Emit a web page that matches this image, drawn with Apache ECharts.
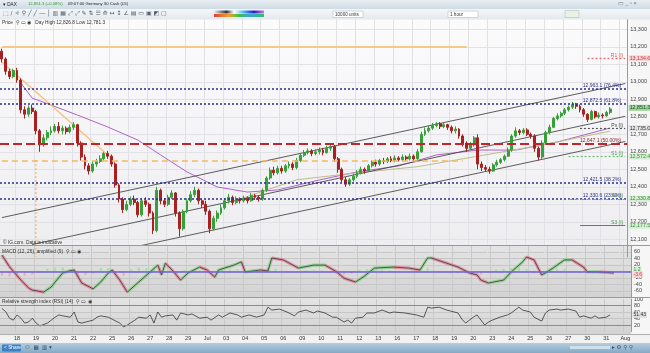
<!DOCTYPE html>
<html><head><meta charset="utf-8">
<script src="https://cdn.jsdelivr.net/npm/echarts/dist/echarts.min.js"></script>
<style>html,body{margin:0;padding:0;background:#fff;overflow:hidden}#c{width:650px;height:353px}</style>
</head><body><div id="c"></div><script>
// ---------- data ----------
const dayLabels = ['15','18','19','20','21','22','25','26','27','28','29','Jul','03','04','05','06','09','10','11','12','13','16','17','18','19','20','23','24','25','26','27','30','31','Aug'];
const daySlots  = [4,5,5,5,5,5,5,5,5,5,5,5,5,5,5,5,5,5,5,5,5,5,5,5,5,5,5,5,5,5,5,5,5,2];
// [open, close, low, high]
const ohlc = [
[13175,13130,13110,13190],[13130,13060,13040,13140],[13060,13030,13015,13075],[13030,13065,13020,13075],
[13065,13010,12995,13080],[13010,12840,12820,13020],[12840,12815,12790,12860],[12815,12850,12800,12865],[12850,12830,12815,12870],
[12830,12720,12700,12840],[12720,12640,12600,12730],[12640,12680,12630,12700],[12680,12710,12665,12725],[12710,12720,12695,12745],
[12720,12745,12710,12760],[12745,12720,12705,12770],[12720,12735,12700,12750],[12735,12715,12700,12745],[12715,12740,12705,12755],
[12740,12755,12725,12770],[12755,12650,12630,12760],[12650,12570,12550,12660],[12570,12520,12500,12585],[12520,12490,12470,12535],
[12490,12530,12480,12545],[12530,12545,12515,12560],[12545,12560,12535,12580],[12560,12590,12550,12600],[12590,12575,12560,12605],
[12575,12530,12515,12585],[12530,12410,12395,12540],[12410,12330,12310,12420],[12330,12270,12250,12340],[12270,12300,12260,12320],
[12300,12330,12290,12345],[12330,12310,12295,12350],[12310,12240,12225,12320],[12240,12320,12230,12335],[12320,12300,12285,12340],
[12300,12250,12230,12310],[12250,12150,12130,12260],[12150,12380,12140,12400],[12380,12320,12300,12390],[12320,12300,12285,12335],
[12300,12340,12290,12355],[12340,12365,12330,12380],[12365,12250,12230,12370],[12250,12160,12115,12260],[12160,12260,12150,12270],
[12260,12320,12250,12335],[12320,12355,12310,12375],[12355,12380,12340,12400],[12380,12320,12300,12390],[12320,12300,12280,12330],
[12300,12260,12240,12320],[12260,12160,12135,12270],[12160,12220,12150,12235],[12220,12250,12200,12265],[12250,12280,12240,12300],
[12280,12320,12270,12335],[12320,12340,12305,12360],[12340,12310,12295,12350],[12310,12330,12300,12345],[12330,12320,12305,12340],
[12320,12335,12310,12350],[12335,12320,12305,12345],[12320,12350,12315,12365],[12350,12340,12325,12360],[12340,12330,12315,12350],
[12330,12380,12320,12390],[12380,12450,12370,12460],[12450,12495,12440,12510],[12495,12480,12465,12515],[12480,12505,12470,12520],
[12505,12490,12475,12520],[12490,12520,12480,12530],[12520,12530,12505,12545],[12530,12510,12495,12540],[12510,12550,12500,12565],
[12550,12580,12540,12590],[12580,12595,12570,12610],[12595,12605,12585,12620],[12605,12590,12575,12615],[12590,12600,12580,12615],
[12600,12610,12585,12625],[12610,12595,12580,12620],[12595,12620,12590,12635],[12620,12630,12605,12645],[12630,12560,12545,12640],
[12560,12500,12480,12570],[12500,12440,12425,12510],[12440,12415,12400,12455],[12415,12440,12405,12450],[12440,12460,12430,12475],
[12460,12480,12450,12495],[12480,12500,12470,12515],[12500,12490,12475,12510],[12490,12520,12485,12530],[12520,12540,12510,12550],
[12540,12530,12515,12555],[12530,12550,12520,12560],[12550,12545,12530,12565],[12545,12560,12535,12570],[12560,12550,12540,12575],
[12550,12565,12540,12580],[12565,12555,12545,12575],[12555,12570,12545,12585],[12570,12560,12550,12580],[12560,12575,12550,12590],
[12575,12560,12545,12585],[12560,12600,12555,12615],[12600,12700,12595,12715],[12700,12720,12690,12740],[12720,12735,12710,12750],
[12735,12750,12725,12765],[12750,12760,12740,12770],[12760,12745,12730,12770],[12745,12755,12735,12765],[12755,12740,12725,12760],
[12740,12720,12705,12750],[12720,12730,12705,12745],[12730,12690,12675,12735],[12690,12650,12630,12700],[12650,12620,12600,12660],
[12620,12640,12610,12655],[12640,12680,12630,12690],[12680,12530,12500,12700],[12530,12510,12490,12545],[12510,12500,12485,12525],
[12500,12490,12475,12515],[12490,12525,12485,12535],[12525,12540,12515,12555],[12540,12555,12530,12565],[12555,12575,12545,12585],
[12575,12610,12570,12625],[12610,12690,12600,12700],[12690,12720,12680,12740],[12720,12710,12695,12730],[12710,12725,12700,12735],
[12725,12700,12690,12735],[12700,12690,12675,12710],[12690,12620,12600,12700],[12620,12570,12550,12630],[12570,12650,12560,12665],
[12650,12710,12640,12720],[12710,12740,12700,12755],[12740,12790,12735,12800],[12790,12805,12780,12820],[12805,12820,12795,12830],
[12820,12840,12810,12850],[12840,12855,12830,12865],[12855,12870,12845,12885],[12870,12860,12845,12880],[12860,12840,12825,12870],
[12840,12815,12800,12850],[12815,12785,12770,12820],[12785,12830,12780,12840],[12830,12800,12790,12835],[12800,12810,12790,12825],
[12810,12805,12790,12820],[12805,12825,12800,12835],[12825,12845,12815,12855]
];
// moving averages: [slot, price]
const purpleMA = [[5,12994],[8,12907],[13,12867],[20,12810],[28,12742],[36,12667],[42,12582],[49,12485],[57,12399],[65,12370],[73,12382],[84,12439],[94,12485],[105,12519],[115,12582],[126,12610],[136,12610],[147,12656],[161,12736]];
const oliveMA  = [[63,12330],[78,12440],[94,12480],[110,12515],[126,12575],[142,12635],[161,12718]];
// trend lines: [slot, price]
const channelUpper = [[0,12224],[165,12990]];
const channelMid   = [[8,12070],[165,12803]];
const channelLower = [[37,12065],[165,12659]];
const downTrend    = [[0,13113],[28,12582]];
const orangeVert   = [[9,12553],[9,12000]];
// levels
const fibLevels  = [12963.1, 12872.5, 12421.5, 12330.6];
const fibTexts   = ['12,963.1 (76.4%)','12,872.5 (61.8%)','12,421.5 (38.2%)','12,330.6 (23.6%)'];
const midLevel   = 12647.1;
const midText    = '12,647.1 (50.00%)';
const orangeTop  = 13200;
const orangeDash = 12547;
const pivots = {R1:13134.6, Pv:12735.0, S1:12572.4, S2:12330.8, S3:12177.5};
const lastPrice = 12851.3;
// MACD: [slot, value]
const macdLine = [[0,50],[2,14],[5,-27],[7,-51],[8,-58],[11,-64],[13,-48],[14,-33],[16,-5],[18,2],[19,4],[21,-36],[24,-54],[26,-33],[28,-5],[29,4],[31,-27],[33,-64],[36,-33],[39,-2],[41,19],[42,-11],[43,25],[45,1],[47,-27],[49,-5],[52,13],[54,4],[56,-18],[57,4],[61,19],[63,29],[64,-2],[68,4],[70,1],[71,41],[74,35],[78,10],[82,19],[85,19],[88,-1],[90,-21],[93,-33],[95,-18],[98,10],[103,13],[107,10],[110,4],[112,41],[113,41],[116,29],[120,13],[123,-5],[125,-11],[126,-27],[128,-36],[132,-27],[134,-2],[137,29],[138,44],[140,35],[142,-11],[143,-5],[145,10],[148,35],[150,35],[153,13],[154,-2],[157,-2],[161,-5]];
const macdHist = [[0,-14],[2,-16],[4,-18],[6,-14],[8,-10],[10,-4],[12,8],[14,12],[16,12],[18,6],[20,-10],[22,-12],[24,-6],[26,10],[28,10],[30,-8],[32,-14],[34,6],[36,12],[38,10],[40,8],[42,-4],[44,4],[46,-8],[48,4],[50,6],[52,4],[54,-4],[56,-4],[58,4],[60,6],[62,6],[64,-4],[66,2],[68,2],[70,10],[72,8],[74,-2],[76,-4],[78,-2],[80,3],[82,3],[84,2],[86,-4],[88,-8],[90,-10],[92,-8],[94,4],[96,6],[98,6],[100,3],[102,3],[104,2],[106,-2],[108,-2],[110,4],[112,12],[114,-2],[116,-4],[118,-6],[120,-6],[122,-6],[124,-6],[126,-10],[128,-4],[130,6],[132,8],[134,10],[136,12],[138,8],[140,-6],[142,-8],[144,6],[146,8],[148,8],[150,-2],[152,-6],[154,-6],[156,-2],[158,-2],[160,-2]];
// RSI: [slot, value]
const rsiLine = [[0,71],[1,61],[2,41],[3,35],[4,51],[5,41],[6,26],[7,29],[8,41],[9,26],[10,17],[12,26],[13,35],[14,44],[15,51],[16,48],[18,44],[19,60],[20,29],[21,26],[22,29],[24,35],[25,44],[26,48],[28,44],[29,38],[31,26],[32,14],[33,20],[35,35],[36,44],[38,41],[39,51],[40,26],[41,60],[42,44],[43,48],[45,51],[46,35],[47,57],[49,51],[50,54],[52,41],[54,44],[55,35],[57,51],[58,44],[60,57],[62,51],[63,44],[65,51],[67,44],[69,51],[70,75],[71,66],[73,69],[75,60],[77,48],[78,60],[80,66],[82,57],[83,63],[85,57],[87,44],[88,44],[90,29],[91,35],[92,26],[93,41],[95,44],[96,57],[98,57],[100,66],[102,57],[103,60],[106,57],[109,51],[111,44],[112,75],[113,72],[115,75],[117,66],[118,63],[120,57],[121,38],[122,26],[123,35],[124,44],[125,51],[127,20],[128,29],[129,35],[131,44],[133,51],[134,57],[136,75],[137,66],[139,60],[140,44],[142,32],[143,57],[144,66],[146,69],[147,66],[149,69],[151,63],[152,44],[153,48],[155,41],[156,48],[157,41],[159,44],[160,51]];
const rsiLast = 51.43;
const macdLast = [1.2, -3.6];

// ---------- build ----------
const categories = []; const dayStart = new Set();
dayLabels.forEach((d,i)=>{ dayStart.add(categories.length); for(let k=0;k<daySlots[i];k++) categories.push(d+'#'+k); });
const fmt = v => v.toLocaleString('en-US',{minimumFractionDigits:1,maximumFractionDigits:1});
const FONT = 'Liberation Sans, Arial, sans-serif';
const navy = '#2a2f86';
const CLEAR = 'rgba(0,0,0,0)';

const ribbonPieces = [];
for (let i=0;i<macdLine.length-1;i++){
  const up = macdLine[i+1][1] >= macdLine[i][1];
  ribbonPieces.push({gte: macdLine[i][0], lt: macdLine[i+1][0] + (i===macdLine.length-2?1:0), color: up ? '#7fcd7f' : '#e27b90'});
}

function xAxisDef(gi, showLabels){
  return {type:'category', gridIndex:gi, data:categories, boundaryGap:true,
    axisLine:{show:false}, axisTick:{show:false},
    axisLabel:{show:showLabels, interval:(i,v)=>v.endsWith('#0') && !v.startsWith('15#'), formatter:v=>v.split('#')[0],
      fontSize:5.5, color:'#333', fontFamily:FONT, margin:4},
    splitLine:{show:true, interval:(i)=>dayStart.has(i)&&i>0, lineStyle:{color:gi===0?'#e2e2e6':'#c9c9c9', width:1}}};
}
function yAxisDef(gi, min, max, interval, hide){
  return {type:'value', gridIndex:gi, position:'right', min, max, interval,
    axisLine:{show:true, lineStyle:{color:'#9a9a9a'}}, axisTick:{show:false},
    axisLabel:{fontSize:5.5, color:'#444', fontFamily:FONT, margin:3,
      formatter:v=> hide(v) ? '' : (Math.abs(v)>=1000 ? v.toLocaleString('en-US') : String(v))},
    splitLine:{show:true, showMinLine:false, showMaxLine:false, lineStyle:{color:gi===0?'#e2e2e6':'#c6c6c6', width:1}}};
}

const lblSmall = (color)=>({show:true, position:'insideEndTop', fontSize:5, color, fontFamily:FONT, distance:[6,0.5]});
const axisBox = (val, txt, bg, fg) => ({yAxis:val, lineStyle:{color:CLEAR, width:0}, label:{show:true, position:'end', formatter:txt, fontSize:5.3, color:fg, backgroundColor:bg, padding:[1,1,0,1], distance:1.5, fontFamily:FONT}});

const mainMarks = [];
fibLevels.forEach((v,i)=>mainMarks.push({yAxis:v, lineStyle:{color:navy, width:1.6, type:[2,2]}, label:{...lblSmall(navy), formatter:fibTexts[i]}}));
mainMarks.push({yAxis:midLevel, lineStyle:{color:'#c0272d', width:2, type:[9,4]}, label:{...lblSmall('#8a1c1c'), formatter:midText}});
mainMarks.push([{coord:[0,orangeTop], lineStyle:{color:'#f6c886', width:2, type:'solid'}, label:{show:false}},{coord:[123,orangeTop]}]);
mainMarks.push([{coord:[0,orangeDash], lineStyle:{color:'#f3bb62', width:1.6, type:[6,4]}, label:{show:false}},{coord:[122,orangeDash]}]);
mainMarks.push([{coord:[155,pivots.R1], lineStyle:{color:'#e0707a', width:1.4, type:[2,2]}, label:{show:true, position:'insideEndTop', formatter:'R1 (I)', fontSize:5, color:'#d0606a', distance:[2,0.5]}},{coord:[165,pivots.R1]}]);
mainMarks.push([{coord:[153,pivots.Pv], lineStyle:{color:'#555', width:1.2, type:[2,2]}, label:{show:true, position:'insideEndTop', formatter:'Pv (I)', fontSize:5, color:'#444', distance:[2,0.5]}},{coord:[165,pivots.Pv]}]);
mainMarks.push([{coord:[150,pivots.S1], lineStyle:{color:'#6dbb6d', width:1.2, type:[2,2]}, label:{show:true, position:'insideEndTop', formatter:'S1 (I)', fontSize:5, color:'#4a9a4a', distance:[2,0.5]}},{coord:[165,pivots.S1]}]);
mainMarks.push([{coord:[150,pivots.S2], lineStyle:{color:'#6dbb6d', width:1, type:[4,2]}, label:{show:true, position:'insideEndTop', formatter:'S2 (I)', fontSize:5, color:'#4a9a4a', distance:[2,0.5]}},{coord:[165,pivots.S2]}]);
mainMarks.push([{coord:[153,pivots.S3], lineStyle:{color:'#3f9a3f', width:1.2, type:'solid'}, label:{show:true, position:'insideEndTop', formatter:'S3 (I)', fontSize:5, color:'#4a9a4a', distance:[2,0.5]}},{coord:[165,pivots.S3]}]);
mainMarks.push(axisBox(pivots.R1, fmt(pivots.R1), '#f6d5d8', '#c0404a'));
mainMarks.push(axisBox(pivots.Pv, fmt(pivots.Pv), '#e2e2e2', '#333'));
mainMarks.push(axisBox(pivots.S1, fmt(pivots.S1), '#d6eed6', '#3a8a3a'));
mainMarks.push(axisBox(pivots.S2, fmt(pivots.S2), '#d6eed6', '#3a8a3a'));
mainMarks.push(axisBox(pivots.S3, fmt(pivots.S3), '#d6eed6', '#3a8a3a'));
mainMarks.push(axisBox(lastPrice, fmt(lastPrice), '#9fd39f', '#1f4f1f'));

const lineS = (data, color, width, type, xi) => ({type:'line', xAxisIndex:xi||0, yAxisIndex:xi||0, data, symbol:'none', silent:true, animation:false, lineStyle:{color, width, type:type||'solid'}, z:3});

const option = {
  animation:false,
  textStyle:{fontFamily:FONT},
  grid:[
    {left:0, right:19, top:11.8, height:245},
    {left:0, right:19, top:245.3, height:52},
    {left:0, right:19, top:299, height:32.5}
  ],
  xAxis:[xAxisDef(0,false), xAxisDef(1,false), xAxisDef(2,true)],
  yAxis:[
    yAxisDef(0, 12000, 13400, 100, v=>v<=12000||v>=13400),
    yAxisDef(1, -80, 80, 20, v=>v===0||Math.abs(v)>=80),
    yAxisDef(2, 0, 100, 20, v=>v===0)
  ],
  visualMap:[{show:false, type:'piecewise', seriesIndex:8, dimension:0, pieces:ribbonPieces, outOfRange:{color:'#999'}}],
  series:[
    {type:'candlestick', xAxisIndex:0, yAxisIndex:0, data:ohlc, barWidth:2.4, animation:false, silent:true, z:4,
      itemStyle:{color:'#38a038', color0:'#a82020', borderColor:'#38a038', borderColor0:'#a82020', borderWidth:1},
      markLine:{silent:true, symbol:['none','none'], animation:false, precision:1, data:mainMarks}},
    lineS(purpleMA, '#b063c6', 1),
    lineS(oliveMA, '#bdbd8c', 1),
    lineS(channelUpper, '#4a4a4a', 0.9),
    lineS(channelMid, '#4a4a4a', 0.9),
    lineS(channelLower, '#4a4a4a', 0.9),
    lineS(downTrend, '#f4c27c', 1.4),
    lineS(orangeVert, '#f0b860', 1.2, [2,2]),
    // 8: MACD ribbon
    {type:'line', xAxisIndex:1, yAxisIndex:1, data:macdLine, symbol:'none', silent:true, lineStyle:{width:3.2, opacity:0.75}, z:3},
    {type:'bar', xAxisIndex:1, yAxisIndex:1, data:macdHist, barWidth:2, silent:true, z:2,
      itemStyle:{color:p=>p.value[1]>=0?'#a8dca8':'#f2a9b4'},
      markLine:{silent:true, symbol:['none','none'], animation:false, data:[
        {yAxis:0, lineStyle:{color:'#6f62d0', width:1.6, type:'solid'}, label:{show:false}},
        {yAxis:macdLast[0]+4, lineStyle:{color:CLEAR, width:0}, label:{show:true, position:'end', formatter:String(macdLast[0]), fontSize:5, color:'#3a8a3a', backgroundColor:'#d6eed6', padding:[1,1,0,1], distance:1.5}},
        {yAxis:macdLast[1]-6, lineStyle:{color:CLEAR, width:0}, label:{show:true, position:'end', formatter:String(macdLast[1]), fontSize:5, color:'#c04050', backgroundColor:'#f6d5d8', padding:[1,1,0,1], distance:1.5}}
      ]}},
    lineS(macdLine, '#3a3a3a', 0.8, 'solid', 1),
    {type:'line', xAxisIndex:2, yAxisIndex:2, data:rsiLine, symbol:'none', silent:true, lineStyle:{color:'#333', width:0.8}, z:3,
      markLine:{silent:true, symbol:['none','none'], animation:false, data:[
        {yAxis:80, lineStyle:{color:'#8b80d8', width:1.2, type:'solid'}, label:{show:false}},
        {yAxis:20, lineStyle:{color:'#8b80d8', width:1.2, type:'solid'}, label:{show:false}},
        {yAxis:rsiLast, lineStyle:{color:CLEAR, width:0}, label:{show:true, position:'end', formatter:String(rsiLast), fontSize:5, color:'#333', backgroundColor:'#dedede', padding:[1,1,0,1], distance:1.5}}
      ]}}
  ],
  graphic:[
    {type:'rect', z:-10, shape:{x:0,y:19,width:631,height:226}, style:{fill:new echarts.graphic.LinearGradient(0,0,0,1,[{offset:0,color:'#fbfbfc'},{offset:1,color:'#eeeef1'}])}},
    {type:'rect', z:-10, shape:{x:0,y:245,width:631,height:52}, style:{fill:new echarts.graphic.LinearGradient(0,0,0,1,[{offset:0,color:'#e4e4e4'},{offset:1,color:'#d3d3d3'}])}},
    {type:'rect', z:-10, shape:{x:0,y:297,width:631,height:37}, style:{fill:new echarts.graphic.LinearGradient(0,0,0,1,[{offset:0,color:'#e4e4e4'},{offset:1,color:'#d3d3d3'}])}},
    {type:'rect', z:-10, shape:{x:631,y:19,width:19,height:315}, style:{fill:'#f6f6f6'}},
    {type:'rect', z:-10, shape:{x:0,y:334,width:650,height:9}, style:{fill:'#f2f2f2'}},
    {type:'line', z:50, shape:{x1:0,y1:245.5,x2:650,y2:245.5}, style:{stroke:'#9a9a9a', lineWidth:1}},
    {type:'line', z:50, shape:{x1:0,y1:297.5,x2:650,y2:297.5}, style:{stroke:'#9a9a9a', lineWidth:1}},
    {type:'line', z:50, shape:{x1:0,y1:334.5,x2:650,y2:334.5}, style:{stroke:'#b0b0b0', lineWidth:1}},
    {type:'rect', z:60, shape:{x:0,y:0,width:650,height:9}, style:{fill:new echarts.graphic.LinearGradient(0,0,0,1,[{offset:0,color:'#e8eef3'},{offset:1,color:'#cfdbe4'}])}},
    {type:'rect', z:60, shape:{x:0,y:9,width:650,height:10.5}, style:{fill:new echarts.graphic.LinearGradient(0,0,0,1,[{offset:0,color:'#f4f7f9'},{offset:1,color:'#e2e9ee'}])}},
    {type:'text', z:61, left:3, top:2, style:{text:'▾ DAX', fontSize:4.6, fill:'#223', fontFamily:FONT}},
    {type:'text', z:61, left:28, top:2, style:{text:'12,851.3 (+0.08%)', fontSize:4.2, fill:'#2e9a2e', fontFamily:FONT}},
    {type:'text', z:61, left:68, top:2, style:{text:'09:07:00 Germany 30 Cash (£5)', fontSize:4.2, fill:'#223', fontFamily:FONT}},
    {type:'rect', z:61, shape:{x:333,y:11,width:30,height:6.5}, style:{fill:'#fff', stroke:'#a9b6c0', lineWidth:0.5}},
    {type:'text', z:62, left:335, top:12, style:{text:'10000 units', fontSize:4.6, fill:'#333', fontFamily:FONT}},
    {type:'rect', z:61, shape:{x:448,y:11,width:30,height:6.5}, style:{fill:'#fff', stroke:'#a9b6c0', lineWidth:0.5}},
    {type:'text', z:62, left:450, top:12, style:{text:'1 hour', fontSize:4.6, fill:'#333', fontFamily:FONT}},
    {type:'rect', z:61, shape:{x:565,y:10.5,width:14,height:7}, style:{fill:'#e9f1e4', stroke:'#a9b6c0', lineWidth:0.5}},
    {type:'text', z:61, left:618, top:0.5, style:{text:'▭ _ ▫ ×', fontSize:5.5, fill:'#6a7a88', fontFamily:FONT}},
    {type:'text', z:61, left:3, top:10.5, style:{text:'⬚ ∕ ☼ ⚲ ╱ ╱ ― │ ▥ ▦ ⤢ ⤢ ✎ ⇅ ☰ ⟰ ↔ ↕ ∠ ▤ ▭ ▣ ◩ ▢', fontSize:6, fill:'#52606c', fontFamily:'DejaVu Sans'}},
    {type:'rect', z:61, shape:{x:214,y:10.5,width:50,height:3}, style:{fill:new echarts.graphic.LinearGradient(0,0,1,0,[{offset:0,color:'#eeeeee'},{offset:0.25,color:'#333333'},{offset:0.4,color:'#ffffff'},{offset:0.6,color:'#48b0f0'},{offset:0.8,color:'#2020c0'},{offset:1,color:'#e070e0'}])}},
    {type:'rect', z:61, shape:{x:214,y:14,width:50,height:3}, style:{fill:new echarts.graphic.LinearGradient(0,0,1,0,[{offset:0,color:'#e04040'},{offset:0.3,color:'#f0a030'},{offset:0.5,color:'#40c040'},{offset:0.7,color:'#40a0e0'},{offset:1,color:'#30c060'}])}},
    {type:'text', z:61, left:2, top:20.5, style:{text:'Price  ⚲ ▭ ◉   Day High 12,826.8 Low 12,781.3', fontSize:4.8, fill:'#333', fontFamily:FONT}},
    {type:'text', z:61, left:3, top:240.5, style:{text:'© IG.com. Data is indicative', fontSize:4.8, fill:'#333', fontFamily:FONT}},
    {type:'text', z:61, left:2, top:249, style:{text:'MACD (12, 26), amplified (9)  ⚲ ▭ ◉', fontSize:4.8, fill:'#333', fontFamily:FONT}},
    {type:'text', z:61, left:2, top:299, style:{text:'Relative strength index (RSI) (14)  ⚲ ▭ ◉', fontSize:4.8, fill:'#333', fontFamily:FONT}},
    {type:'rect', z:60, shape:{x:0,y:343,width:650,height:10}, style:{fill:new echarts.graphic.LinearGradient(0,0,0,1,[{offset:0,color:'#b4cde0'},{offset:1,color:'#86a9c4'}])}},
    {type:'rect', z:61, shape:{x:2,y:344.5,width:19,height:7, r:1}, style:{fill:'#3b7fc4'}},
    {type:'text', z:62, left:4, top:345.5, style:{text:'< Share', fontSize:4.8, fill:'#fff', fontFamily:FONT}},
    {type:'text', z:61, left:25, top:344.5, style:{text:'⚇  ▦  ▥ ▾', fontSize:5.5, fill:'#2f4f6a', fontFamily:'DejaVu Sans'}},
    {type:'rect', z:61, shape:{x:570,y:346,width:40,height:3}, style:{fill:'#cfe0ec'}},
    {type:'text', z:61, left:612, top:344.5, style:{text:'▸ ⚙ ⚲ ⚲', fontSize:5.5, fill:'#2f4f6a', fontFamily:'DejaVu Sans'}}
  ]
};
const chart = echarts.init(document.getElementById('c'), null, {renderer:'canvas'});
chart.setOption(option);
</script></body></html>
